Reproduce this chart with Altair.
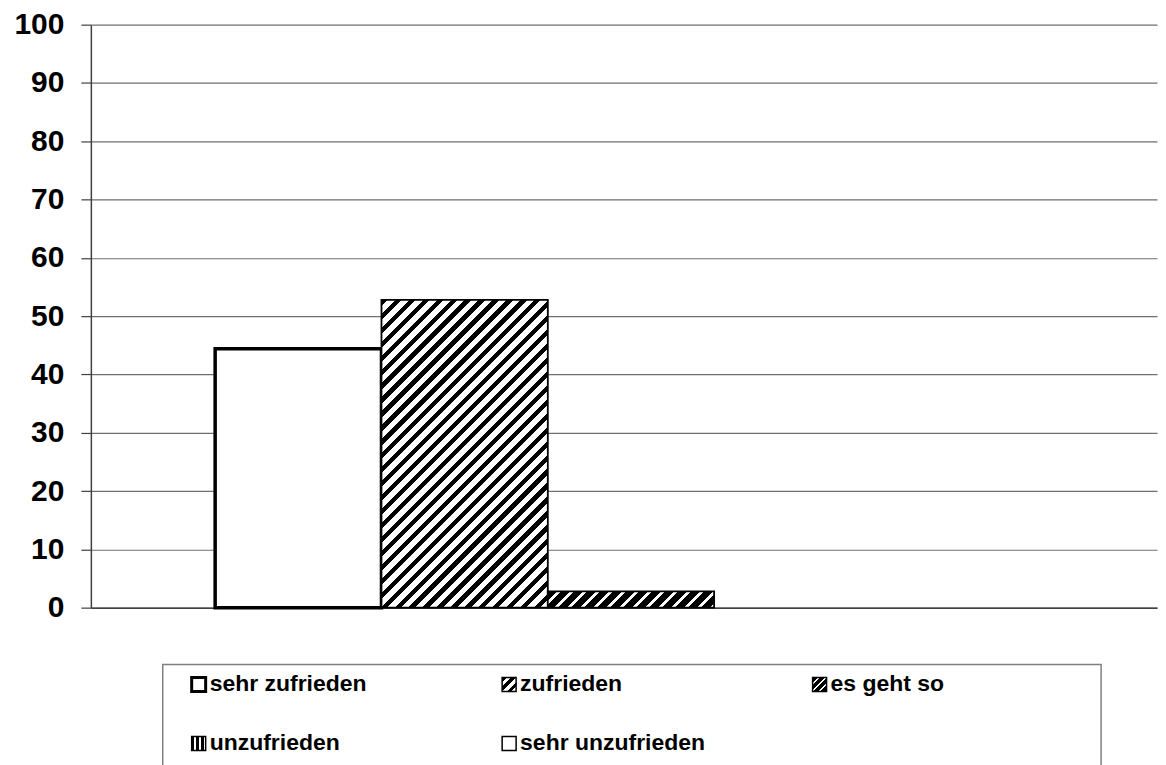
import altair as alt
import pandas as pd

# ---------------- data ----------------
categories = ["sehr zufrieden", "zufrieden", "es geht so", "unzufrieden", "sehr unzufrieden"]
values = [44.4, 52.8, 2.8, 0.0, 0.0]
y_ticks = [0, 10, 20, 30, 40, 50, 60, 70, 80, 90, 100]
legend_cols = [0, 1, 2, 0, 1]
legend_rows = [0, 0, 0, 1, 1]

# ---------------- layout / style ----------------
PLOT_W, PLOT_H = 1068, 584
PAD_OUTER = 0.705
STEP = PLOT_W / (len(categories) + 2 * PAD_OUTER)
LEG_W, LEG_H = 940, 130
COL_STEP, ROW_STEP = 311, 59
COL0, ROW0 = 36, 20
FONT = "Liberation Sans"


def diag_stripes(w, h, period, black_frac):
    """'/'-hatching as a hard-stop linear gradient (bounding-box units)."""
    w = max(w, 1.0)
    h = max(h, 1.0)
    n = max(1, round((w + h) / period))
    stops = []
    for k in range(n):
        a, b, c = k / n, (k + black_frac) / n, (k + 1) / n
        stops += [
            {"offset": a, "color": "black"},
            {"offset": b, "color": "black"},
            {"offset": b, "color": "white"},
            {"offset": c, "color": "white"},
        ]
    s = (w + h) / (w * w + h * h)
    return {"gradient": "linear", "x1": 0, "y1": 0, "x2": s * w, "y2": s * h, "stops": stops}


def vert_stripes(n, black_frac):
    stops = []
    for k in range(n):
        a, b, c = k / n, (k + black_frac) / n, (k + 1) / n
        stops += [
            {"offset": a, "color": "white"},
            {"offset": a, "color": "black"},
            {"offset": b, "color": "black"},
            {"offset": b, "color": "white"},
            {"offset": c, "color": "white"},
        ]
    return {"gradient": "linear", "x1": 0, "y1": 0, "x2": 1, "y2": 0, "stops": stops}


def bar_fill(i, w, h):
    if i == 1:
        return diag_stripes(w, h, 14, 0.45)
    if i == 2:
        return diag_stripes(w, h, 13, 0.7)
    if i == 3:
        return vert_stripes(max(1, round(w / 6)), 0.5)
    return "white"


def legend_fill(i):
    side = 14
    if i == 1:
        return diag_stripes(side, side, 9, 0.5)
    if i == 2:
        return diag_stripes(side, side, 8, 0.75)
    if i == 3:
        return vert_stripes(3, 0.55)
    return "white"


stroke_w = [3.5, 1.8, 1.8, 1.8, 1.8]

df = pd.DataFrame({"Antwort": categories, "Wert": values})

x_enc = alt.X(
    "Antwort:N",
    sort=categories,
    scale=alt.Scale(domain=categories, paddingInner=0, paddingOuter=PAD_OUTER, align=0.53),
    axis=alt.Axis(labels=False, ticks=False, title=None, grid=False,
                  domainColor="#404040", domainWidth=1.5),
)
y_enc = alt.Y(
    "Wert:Q",
    scale=alt.Scale(domain=[0, 100], nice=False, zero=True),
    axis=alt.Axis(
        values=y_ticks, title=None, format="d",
        labelFont=FONT, labelFontWeight="bold", labelFontSize=30, labelColor="black",
        labelPadding=17, labelFlush=False, labelOverlap=False,
        tickSize=10, tickColor="#404040", tickWidth=1.2,
        domainColor="#404040", domainWidth=1.5,
        grid=True, gridColor="#6f6f6f", gridWidth=1.2,
    ),
)

layers = []
for i, cat in enumerate(categories):
    h = values[i] / 100 * PLOT_H
    layers.append(
        alt.Chart(df)
        .transform_filter(alt.datum.Antwort == cat)
        .mark_bar(fill=bar_fill(i, STEP, h), stroke="black",
                  strokeWidth=stroke_w[i] if values[i] > 0 else 0.01, fillOpacity=1)
        .encode(x=x_enc, y=y_enc)
    )

main = alt.layer(*layers).properties(width=PLOT_W, height=PLOT_H)

# ---------------- legend panel ----------------
leg_df = pd.DataFrame({"Antwort": categories, "col": legend_cols, "row": legend_rows})
lx = alt.X("col:Q", scale=alt.Scale(domain=[-COL0 / COL_STEP, (LEG_W - COL0) / COL_STEP], nice=False, zero=False), axis=None)
ly = alt.Y("row:Q", scale=alt.Scale(domain=[-ROW0 / ROW_STEP, (LEG_H - ROW0) / ROW_STEP], nice=False, zero=False, reverse=True), axis=None)

leg_layers = []
for i, cat in enumerate(categories):
    leg_layers.append(
        alt.Chart(leg_df)
        .transform_filter(alt.datum.Antwort == cat)
        .mark_square(size=14 * 14, fill=legend_fill(i), stroke="black",
                     strokeWidth=3 if i == 0 else 1.5, opacity=1, fillOpacity=1)
        .encode(x=lx, y=ly)
    )
leg_text = (
    alt.Chart(leg_df)
    .mark_text(align="left", baseline="middle", dx=11, font=FONT, fontWeight="bold",
               fontSize=23, color="black")
    .encode(x=lx, y=ly, text="Antwort:N")
)
legend = alt.layer(*leg_layers, leg_text).properties(
    width=LEG_W, height=LEG_H,
    view=alt.ViewBackground(stroke="#808080", strokeWidth=1.5),
)

spacer = (
    alt.Chart(pd.DataFrame({"v": [0]}))
    .mark_point(opacity=0)
    .encode(x=alt.X("v:Q", axis=None), y=alt.Y("v:Q", axis=None))
    .properties(width=70, height=10)
)

bottom = alt.hconcat(spacer, legend, spacing=0)

chart = (
    alt.vconcat(main, bottom, spacing=40)
    .properties(padding={"left": 5, "top": 0, "right": 0, "bottom": 0}, background="white")
    .configure_view(stroke="transparent")
)

chart.save("out.html", embed_options={"renderer": "svg", "actions": False})
